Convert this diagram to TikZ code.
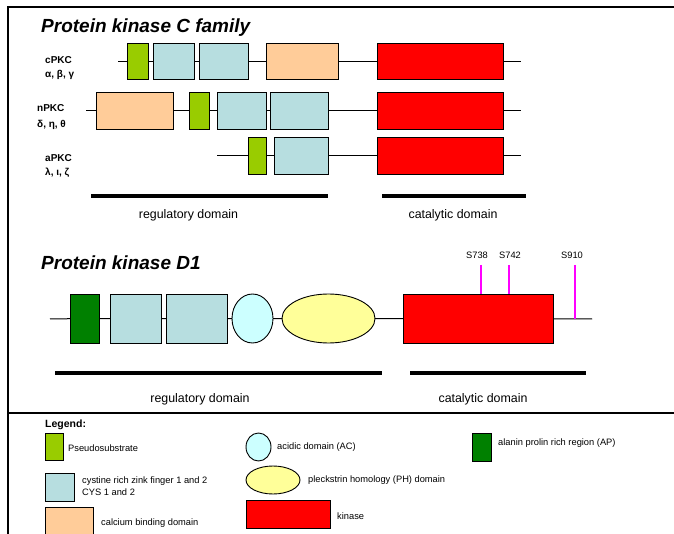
\documentclass[tikz,border=0pt]{standalone}
\usepackage{fontspec}
\setmainfont{Liberation Sans}
\usetikzlibrary{shapes.geometric}

\definecolor{psgreen}{HTML}{99CC00}
\definecolor{cysblue}{HTML}{B7DEE0}
\definecolor{caorange}{HTML}{FFCC99}
\definecolor{kinred}{HTML}{FF0000}
\definecolor{apgreen}{HTML}{008000}
\definecolor{accyan}{HTML}{CCFFFF}
\definecolor{phyellow}{HTML}{FFFF99}
\definecolor{sitemag}{HTML}{FF00FF}

\tikzset{
  dom/.style={draw=black, line width=0.9, inner sep=0, outer sep=0, minimum height=36.5},
  wd/.style={minimum width=#1},
  ps/.style={dom, fill=psgreen},
  cys/.style={dom, fill=cysblue},
  cab/.style={dom, fill=caorange},
  kin/.style={dom, fill=kinred},
  ap/.style={dom, fill=apgreen},
  ac/.style={dom, ellipse, fill=accyan},
  ph/.style={dom, ellipse, fill=phyellow},
  chain/.style={line width=1},
  bar/.style={line width=4},
  site/.style={draw=sitemag, line width=2},
  ttl/.style={anchor=base west, inner sep=0, font=\bfseries\itshape\fontsize{19}{22}\selectfont},
  iso/.style={anchor=west, inner sep=0, font=\bfseries\fontsize{10}{12}\selectfont},
  lbl/.style={font=\fontsize{12.4}{14}\selectfont},
  sitelbl/.style={font=\fontsize{9.3}{11}\selectfont},
  leg/.style={anchor=west, inner sep=0, align=left, font=\fontsize{9.3}{12}\selectfont}
}

\begin{document}
\begin{tikzpicture}[x=1pt,y=-1pt]
\useasboundingbox (0,0) rectangle (674,534);

% frame
\draw[line width=1.5] (8,534) -- (8,7) -- (674,7);
\draw[line width=1.5] (8,413) -- (674,413);

% Protein kinase C family
\node[ttl] (titleC) at (41,33) {Protein kinase C family};

\node[iso] (cpkc) at (45,60) {cPKC};
\node[iso] (cpkcg) at (45,75) {α, β, γ};
\node[iso] (npkc) at (37,108) {nPKC};
\node[iso] (npkcg) at (37,125) {δ, η, θ};
\node[iso] (apkc) at (45,158) {aPKC};
\node[iso] (apkcg) at (45,173) {λ, ι, ζ};

% cPKC
\coordinate (cS) at (118,61.5);
\coordinate (cE) at (521,61.5);
\node[ps,wd=21] (cps) at (137.5,61.5) {};
\node[cys,wd=41] (ccys1) at (173.5,61.5) {};
\node[cys,wd=49] (ccys2) at (223.5,61.5) {};
\node[cab,wd=72] (ccab) at (302,61.5) {};
\node[kin,wd=126] (ckin) at (440,61.5) {};
\draw[chain] (cS) -- (cps) -- (ccys1) -- (ccys2) -- (ccab) -- (ckin) -- (cE);

% nPKC
\coordinate (nS) at (86,111);
\coordinate (nE) at (521,111);
\node[cab,wd=77] (ncab) at (134.5,111) {};
\node[ps,wd=20] (nps) at (199,111) {};
\node[cys,wd=49] (ncys1) at (241.5,111) {};
\node[cys,wd=58] (ncys2) at (299,111) {};
\node[kin,wd=126] (nkin) at (440,111) {};
\draw[chain] (nS) -- (ncab) -- (nps) -- (ncys1) -- (ncys2) -- (nkin) -- (nE);

% aPKC
\coordinate (aS) at (217,156);
\coordinate (aE) at (521,156);
\node[ps,wd=18] (aps) at (257,156) {};
\node[cys,wd=54] (acys) at (301,156) {};
\node[kin,wd=126] (akin) at (440,156) {};
\draw[chain] (aS) -- (aps) -- (acys) -- (akin) -- (aE);

\draw[bar] (91,196) -- (328,196);
\draw[bar] (382,196) -- (526,196);
\node[lbl] (regC) at (188.5,215) {regulatory domain};
\node[lbl] (catC) at (453,215) {catalytic domain};

% Protein kinase D1
\node[ttl] (titleD) at (41,270) {Protein kinase D1};

\coordinate (dS) at (50,319);
\coordinate (dE) at (592,319);
\node[ap,wd=29,minimum height=49] (dap) at (84.5,318.5) {};
\node[cys,wd=51,minimum height=49] (dcys1) at (135.5,318.5) {};
\node[cys,wd=61,minimum height=49] (dcys2) at (196.5,318.5) {};
\node[ac,wd=41,minimum height=49] (dac) at (252.5,318.5) {};
\node[ph,wd=93,minimum height=49] (dph) at (328.5,318.5) {};
\node[kin,wd=150,minimum height=49] (dkin) at (478,318.5) {};
\draw[chain] (dS) -- (dap) -- (dcys1) -- (dcys2) -- (dac) -- (dph) -- (dkin) -- (dE);

\node[sitelbl] (s738) at (477,255) {S738};
\node[sitelbl] (s742) at (510,255) {S742};
\node[sitelbl] (s910) at (572,255) {S910};
\coordinate (t738) at (481,265);
\coordinate (t742) at (509,265);
\coordinate (t910) at (575,265);
\draw[site] (t738) -- (t738 |- dkin.north);
\draw[site] (t742) -- (t742 |- dkin.north);
\draw[site] (t910) -- (t910 |- dE);

\draw[bar] (55,373) -- (382,373);
\draw[bar] (410,373) -- (586,373);
\node[lbl] (regD) at (200,399) {regulatory domain};
\node[lbl] (catD) at (483,399) {catalytic domain};

% legend
\node[anchor=west, inner sep=0, font=\bfseries\fontsize{10.5}{12}\selectfont] (legend) at (45,425) {Legend:};
\node[ps,wd=18,minimum height=27] (lps) at (54,446.5) {};
\node[leg] (lpst) at (68,448) {Pseudosubstrate};
\node[cys,wd=29,minimum height=28] (lcys) at (59.5,487) {};
\node[leg] (lcyst) at (82,486) {cystine rich zink finger 1 and 2\\CYS 1 and 2};
\node[cab,wd=48,minimum height=28] (lcab) at (69,521) {};
\node[leg] (lcabt) at (101,523) {calcium binding domain};
\node[ac,wd=25,minimum height=28] (lac) at (258.5,447) {};
\node[leg] (lact) at (277,447) {acidic domain (AC)};
\node[ph,wd=54,minimum height=28] (lph) at (273,480) {};
\node[leg] (lpht) at (308,480) {pleckstrin homology (PH) domain};
\node[kin,wd=84,minimum height=28] (lkin) at (288,514) {};
\node[leg] (lkint) at (337,516) {kinase};
\node[ap,wd=19,minimum height=28] (lap) at (481.5,447) {};
\node[leg] (lapt) at (498,443) {alanin prolin rich region (AP)};
\end{tikzpicture}
\end{document}
